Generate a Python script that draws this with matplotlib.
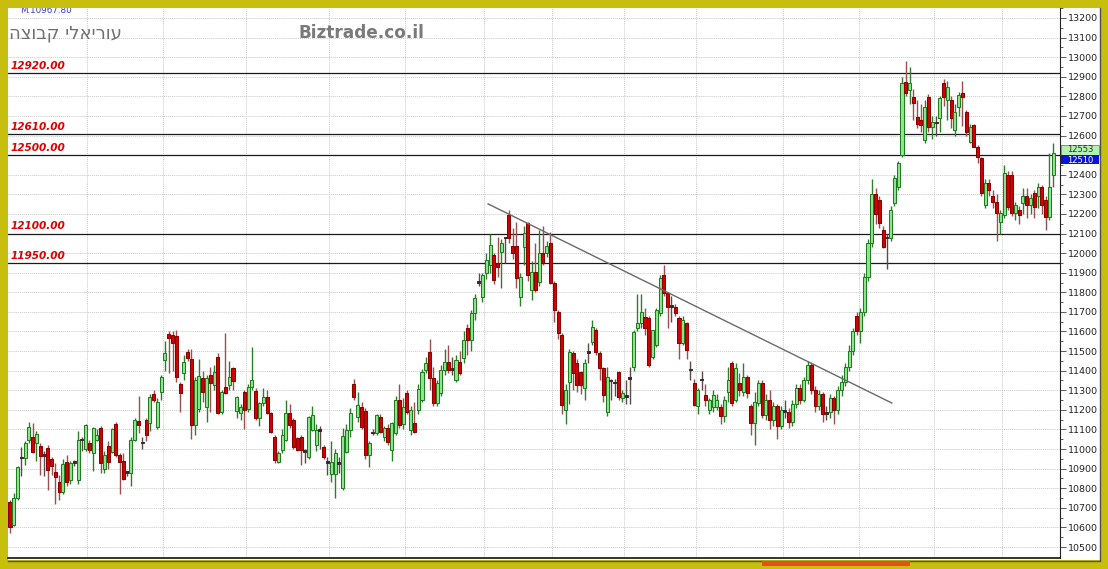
import matplotlib
matplotlib.use("Agg")
import matplotlib.pyplot as plt
import matplotlib.transforms as mtransforms
from matplotlib.patches import Rectangle
from matplotlib.lines import Line2D
from matplotlib.ticker import FuncFormatter
import numpy as np

# daily candles (left -> right)
opens = [
    10730, 10613, 10749, 10960, 10953, 11047, 11064, 11030, 11016, 10970,
    11004, 10948, 10882, 10830, 10783, 10936, 10843, 10937, 10843, 11050,
    11000, 11030, 10978, 11047, 11106, 10900, 11016, 10987, 11128, 10970,
    10941, 10880, 10877, 11047, 11145, 11038, 11149, 11132, 11281, 11115,
    11293, 11455, 11588, 11582, 11577, 11332, 11387, 11497, 11458, 11123,
    11203, 11361, 11217, 11378, 11327, 11472, 11191, 11319, 11327, 11416,
    11196, 11186, 11293, 11203, 11319, 11298, 11157, 11234, 11264, 11183,
    11060, 10936, 10996, 11047, 11183, 11149, 11055, 11064, 10987, 10962,
    11098, 11021, 11100, 11009, 10935, 10873, 10873, 10930, 10800, 10987,
    11098, 11332, 11166, 11213, 11196, 10970, 11085, 11084, 11166, 11060,
    11106, 10996, 11084, 11251, 11128, 11285, 11098, 11135, 11200, 11251,
    11404, 11497, 11361, 11234, 11285, 11404, 11446, 11410, 11353, 11446,
    11463, 11616, 11557, 11693, 11855, 11778, 11896, 11939, 11990, 11948,
    12007, 12075, 12194, 12036, 12036, 11778, 12033, 12152, 11812, 11905,
    11854, 11999, 11999, 12050, 11849, 11701, 11582, 11200, 11344, 11489,
    11438, 11395, 11310, 11490, 11548, 11608, 11489, 11412, 11191, 11345,
    11344, 11395, 11259, 11276, 11365, 11421, 11616, 11642, 11676, 11667,
    11472, 11531, 11693, 11888, 11795, 11730, 11727, 11667, 11540, 11642,
    11405, 11339, 11220, 11355, 11276, 11197, 11217, 11217, 11217, 11169,
    11293, 11438, 11251, 11336, 11293, 11370, 11220, 11131, 11234, 11336,
    11174, 11250, 11150, 11220, 11120, 11200, 11190, 11140, 11230, 11310,
    11250, 11350, 11430, 11300, 11220, 11280, 11180, 11190, 11260, 11200,
    11300, 11340, 11420, 11500, 11680, 11600, 11700, 11880, 12050, 12300,
    12272, 12118, 12082, 12076, 12254, 12340, 12501, 12875, 12833, 12799,
    12697, 12680, 12578, 12799, 12646, 12666, 12688, 12867, 12782, 12782,
    12629, 12748, 12816, 12722, 12569, 12654, 12544, 12484, 12246, 12357,
    12289, 12263, 12161, 12195, 12399, 12399, 12203, 12220, 12255, 12289,
    12246, 12306, 12289, 12340, 12272, 12186, 12399,
]
highs = [
    10740, 10775, 10915, 11013, 11040, 11140, 11135, 11090, 11030, 10990,
    11020, 10960, 10930, 10870, 10950, 10970, 10940, 10945, 11090, 11060,
    11130, 11045, 11115, 11100, 11120, 10990, 11040, 11110, 11140, 10980,
    10980, 10890, 11060, 11160, 11270, 11060, 11160, 11280, 11300, 11260,
    11380, 11550, 11600, 11600, 11610, 11340, 11480, 11510, 11510, 11370,
    11460, 11400, 11380, 11420, 11430, 11490, 11300, 11590, 11450, 11420,
    11270, 11230, 11300, 11330, 11520, 11310, 11240, 11310, 11300, 11190,
    11070, 10990, 11100, 11250, 11230, 11160, 11060, 11070, 11000, 11170,
    11220, 11130, 11120, 11020, 10960, 11040, 11000, 10960, 11110, 11130,
    11210, 11360, 11290, 11240, 11210, 11040, 11100, 11180, 11180, 11120,
    11130, 11140, 11270, 11330, 11260, 11300, 11220, 11240, 11330, 11410,
    11470, 11560, 11420, 11350, 11430, 11510, 11530, 11470, 11480, 11500,
    11600, 11640, 11710, 11790, 11900, 11900, 12000, 12100, 12000, 12080,
    12070, 12080, 12220, 12130, 12160, 11900, 12140, 12160, 11960, 12050,
    12120, 12140, 12060, 12110, 11860, 11710, 11590, 11330, 11510, 11500,
    11460, 11400, 11460, 11540, 11660, 11620, 11500, 11420, 11420, 11360,
    11360, 11400, 11300, 11350, 11420, 11610, 11790, 11790, 11720, 11680,
    11610, 11720, 11890, 11940, 11800, 11780, 11740, 11680, 11680, 11650,
    11450, 11360, 11310, 11400, 11330, 11260, 11300, 11280, 11230, 11270,
    11420, 11450, 11440, 11390, 11440, 11380, 11230, 11290, 11350, 11350,
    11280, 11300, 11240, 11230, 11220, 11250, 11210, 11250, 11330, 11330,
    11370, 11450, 11440, 11320, 11300, 11290, 11220, 11280, 11270, 11320,
    11380, 11440, 11530, 11620, 11700, 11720, 11900, 12070, 12380, 12330,
    12290, 12140, 12100, 12240, 12400, 12470, 12900, 12980, 12950, 12840,
    12780, 12760, 12780, 12810, 12700, 12700, 12800, 12890, 12880, 12800,
    12760, 12820, 12880, 12730, 12660, 12660, 12550, 12490, 12380, 12380,
    12320, 12300, 12220, 12450, 12420, 12420, 12260, 12240, 12330, 12330,
    12300, 12320, 12360, 12350, 12290, 12510, 12560,
]
lows = [
    10570, 10605, 10740, 10860, 10920, 11030, 10980, 10940, 10870, 10860,
    10790, 10870, 10720, 10740, 10770, 10810, 10820, 10915, 10820, 10990,
    10990, 10980, 10890, 11040, 10880, 10880, 10900, 10980, 10960, 10770,
    10840, 10860, 10810, 11040, 11080, 11000, 11040, 11090, 11240, 11100,
    11250, 11400, 11390, 11400, 11340, 11190, 11350, 11450, 11050, 11070,
    11190, 11240, 11140, 11190, 11300, 11180, 11180, 11280, 11300, 11300,
    11160, 11150, 11100, 11190, 11300, 11150, 11120, 11220, 11180, 11080,
    10930, 10930, 10980, 11040, 11110, 11000, 10990, 10920, 10930, 10950,
    11090, 10990, 11000, 10950, 10870, 10830, 10750, 10880, 10790, 10980,
    11060, 11250, 11140, 11100, 10950, 10910, 11070, 11070, 11080, 11040,
    11020, 10940, 11070, 11110, 11100, 11180, 11070, 11080, 11180, 11240,
    11390, 11300, 11220, 11220, 11270, 11380, 11390, 11380, 11340, 11380,
    11440, 11480, 11500, 11660, 11830, 11750, 11870, 11900, 11840, 11880,
    11820, 11950, 12050, 11970, 11820, 11730, 11940, 11860, 11760, 11800,
    11830, 11940, 11980, 11840, 11650, 11560, 11180, 11130, 11230, 11300,
    11290, 11280, 11250, 11440, 11530, 11480, 11350, 11240, 11170, 11250,
    11270, 11250, 11240, 11230, 11230, 11400, 11600, 11620, 11580, 11420,
    11460, 11520, 11680, 11780, 11620, 11650, 11680, 11460, 11530, 11460,
    11350, 11220, 11180, 11300, 11220, 11180, 11190, 11200, 11130, 11140,
    11240, 11220, 11240, 11270, 11270, 11260, 11070, 11020, 11220, 11160,
    11150, 11100, 11120, 11050, 11100, 11160, 11110, 11120, 11210, 11230,
    11240, 11330, 11280, 11190, 11200, 11140, 11150, 11160, 11130, 11180,
    11270, 11320, 11400, 11480, 11580, 11540, 11680, 11860, 12030, 12150,
    12130, 12025, 11920, 12060, 12240, 12320, 12490, 12800, 12760, 12680,
    12640, 12620, 12560, 12620, 12580, 12600, 12620, 12750, 12680, 12640,
    12600, 12700, 12650, 12600, 12560, 12540, 12460, 12290, 12230, 12290,
    12230, 12060, 12100, 12180, 12220, 12190, 12170, 12150, 12200, 12180,
    12200, 12180, 12230, 12200, 12120, 12170, 12340,
]
closes = [
    10600, 10749, 10910, 10952, 11030, 11115, 10987, 11077, 10967, 10965,
    10894, 10914, 10856, 10783, 10924, 10830, 10928, 10930, 11047, 11045,
    11123, 10996, 11106, 11072, 10928, 10970, 10936, 11101, 10970, 10936,
    10848, 10890, 11047, 11149, 11123, 11030, 11072, 11264, 11251, 11242,
    11370, 11489, 11565, 11540, 11370, 11285, 11446, 11463, 11123, 11353,
    11373, 11293, 11361, 11336, 11395, 11186, 11293, 11288, 11370, 11349,
    11264, 11214, 11200, 11319, 11350, 11157, 11234, 11264, 11186, 11089,
    10944, 10979, 11072, 11183, 11123, 11013, 10996, 10996, 10987, 11166,
    11175, 11098, 11090, 10961, 10930, 10935, 10978, 10925, 11067, 11098,
    11183, 11264, 11225, 11115, 10970, 11030, 11080, 11174, 11089, 11106,
    11038, 11132, 11251, 11123, 11217, 11191, 11200, 11089, 11305, 11395,
    11438, 11361, 11234, 11336, 11404, 11446, 11404, 11405, 11455, 11387,
    11557, 11557, 11693, 11769, 11850, 11888, 11965, 12041, 11863, 11931,
    12053, 12075, 12075, 11999, 11871, 11880, 12101, 11888, 11905, 11812,
    11999, 11948, 12036, 11849, 11710, 11591, 11225, 11302, 11497, 11387,
    11327, 11327, 11438, 11490, 11625, 11497, 11412, 11276, 11370, 11345,
    11336, 11268, 11288, 11268, 11358, 11599, 11642, 11701, 11616, 11429,
    11608, 11710, 11871, 11795, 11727, 11727, 11693, 11540, 11659, 11506,
    11403, 11225, 11302, 11352, 11251, 11251, 11276, 11251, 11169, 11251,
    11353, 11237, 11412, 11302, 11370, 11285, 11131, 11242, 11336, 11174,
    11250, 11150, 11220, 11120, 11200, 11190, 11140, 11230, 11310, 11250,
    11350, 11430, 11300, 11220, 11280, 11180, 11190, 11260, 11200, 11300,
    11340, 11420, 11500, 11600, 11600, 11700, 11880, 12050, 12300, 12200,
    12152, 12033, 12076, 12220, 12382, 12459, 12867, 12816, 12867, 12765,
    12659, 12655, 12748, 12646, 12671, 12663, 12790, 12799, 12850, 12688,
    12722, 12807, 12799, 12620, 12646, 12544, 12493, 12306, 12357, 12323,
    12263, 12203, 12203, 12408, 12237, 12203, 12246, 12195, 12289, 12246,
    12280, 12237, 12340, 12246, 12186, 12340, 12510,
]

# support / resistance levels drawn across the chart
levels = [12920, 12610, 12500, 12100, 11950]
# hand-drawn down trend line: (candle index, price) at both ends
trend_idx = [126.5, 233.3]
trend_price = [12251, 11235]
# candle index where each month starts (vertical grid)
month_starts = [21, 41, 63, 85, 105, 126, 144, 163, 182, 205, 225, 245, 263]

last_quote = 12553
last_close = 12510
header_value = "M.10967.80"
group_name = "עוריאלי קבוצה"
site_name = "Biztrade.co.il"

YELLOW = "#C7BF0B"
W, H = 1108, 569


def fx(px):
    return px / W


def fy(py):
    return 1 - py / H


fig = plt.figure(figsize=(W / 100, H / 100), dpi=100, facecolor=YELLOW)

# white panel with a dark shadow edge at right / bottom (behind the axes)
fig.patches.append(Rectangle((fx(8), fy(560)), fx(1100) - fx(8), fy(8) - fy(560),
                             transform=fig.transFigure, facecolor="white",
                             edgecolor="none", zorder=-5))
fig.lines.append(Line2D([fx(1100), fx(1100)], [fy(560), fy(8)],
                        transform=fig.transFigure, color="#505050", lw=1.0, zorder=-4))
fig.lines.append(Line2D([fx(8), fx(1100)], [fy(560.5), fy(560.5)],
                        transform=fig.transFigure, color="#505050", lw=1.0, zorder=-4))
fig.patches.append(Rectangle((fx(762), fy(566)), fx(910) - fx(762), fy(561) - fy(566),
                             transform=fig.transFigure, facecolor="#E4521C",
                             edgecolor="none", zorder=-4))

ax = fig.add_axes([fx(8), fy(558), fx(1060) - fx(8), fy(8) - fy(558)])
ax.set_facecolor("white")

o = np.array(opens, dtype=float)
h = np.array(highs, dtype=float)
l = np.array(lows, dtype=float)
c = np.array(closes, dtype=float)
x = np.arange(len(o))

up = c > o
doji = np.abs(c - o) < 12
body_col = np.where(up, "#8FE88F", "#D40000")
edge_col = np.where(up, "#1E7E1E", "#8A0000")
wick_col = np.where(up, "#2E7D2E", "#9A5050")
body_col[doji] = "#3A2A2A"
edge_col[doji] = "#3A2A2A"
wick_col[doji] = "#5A4A4A"

bottom = np.minimum(o, c)
height = np.maximum(np.abs(c - o), 8)

ax.vlines(x, l, h, colors=wick_col, lw=1.0, zorder=3)
ax.bar(x, height, bottom=bottom, width=0.8, color=body_col,
       edgecolor=edge_col, linewidth=0.75, zorder=4)

ax.set_xlim(-0.53, 277.8)
ax.set_ylim(10444, 13251)

# grid
ax.set_yticks(np.arange(10500, 13201, 100))
ax.set_yticks(np.arange(10550, 13251, 100), minor=True)
ax.grid(axis="y", which="major", color="#CACACA", lw=0.7, ls=(0, (1, 1)), zorder=0)
for m in month_starts:
    ax.axvline(m - 0.5, color="#CACACA", lw=0.7, ls=(0, (1, 1)), zorder=0)
ax.set_xticks([])

# the last-price boxes sit on top of the tick label next to them
hidden_tick = round(last_close, -2)
ax.yaxis.set_major_formatter(
    FuncFormatter(lambda v, pos: "" if abs(v - hidden_tick) < 1 else f"{v:.0f}"))

ax.yaxis.tick_right()
ax.tick_params(axis="y", which="major", length=4, width=0.6, color="#444444",
               labelsize=6.8, labelcolor="#222222", pad=2)
ax.tick_params(axis="y", which="minor", length=2, width=0.6, color="#444444")
for s in ["top", "left"]:
    ax.spines[s].set_visible(False)
ax.spines["right"].set_color("#222222")
ax.spines["right"].set_linewidth(0.8)
ax.spines["bottom"].set_color("#111111")
ax.spines["bottom"].set_linewidth(1.2)

# level lines + labels
for lv in levels:
    ax.axhline(lv, color="#1A1A1A", lw=0.9, zorder=2)
    ax.annotate(f"{lv:.2f}", xy=(0.002, lv), xycoords=("axes fraction", "data"),
                xytext=(0, 1.5), textcoords="offset points", va="bottom", ha="left",
                color="#E00000", fontsize=7.6, fontweight="bold", fontstyle="italic")

ax.plot(trend_idx, trend_price, color="#6A6A6A", lw=1.0, zorder=5)

# last price boxes on the right axis
trans = mtransforms.blended_transform_factory(ax.transAxes, ax.transData)
units_per_px = (ax.get_ylim()[1] - ax.get_ylim()[0]) / 550
box_w = (1099 - 1061) / 1052
g_h = 10 * units_per_px
ax.add_patch(Rectangle((1.001, last_quote - g_h), box_w, g_h, transform=trans,
                       facecolor="#B4F0B4", edgecolor="#4CA04C", lw=0.6,
                       clip_on=False, zorder=6))
ax.text(1.001 + box_w / 2, last_quote - g_h / 2 + 0.5 * units_per_px, f"{last_quote}",
        transform=trans, ha="center", va="center", fontsize=6.0, color="#1A3A1A",
        clip_on=False, zorder=7)
b_top = last_quote - g_h
b_h = 9 * units_per_px
ax.add_patch(Rectangle((1.001, b_top - b_h), box_w, b_h, transform=trans,
                       facecolor="#0A14D8", edgecolor="none", clip_on=False, zorder=6))
ax.text(1.001 + box_w / 2, b_top - b_h / 2 - 1.5 * units_per_px, f"{last_close}",
        transform=trans, ha="center", va="center", fontsize=6.0, color="white",
        clip_on=False, zorder=7)

# header texts
ax.annotate(header_value, xy=(0.0114, 1.0), xycoords="axes fraction",
            xytext=(0, -2), textcoords="offset points", va="center", ha="left",
            fontsize=6.3, color="#3A3AD0", annotation_clip=False, clip_on=True)
# matplotlib has no bidi support: reverse so the Hebrew reads right-to-left
fig.text(fx(9), fy(33), group_name[::-1], fontsize=13, color="#707070",
         va="center", ha="left", family="DejaVu Sans")
fig.text(fx(298), fy(33), site_name, fontsize=12.2, color="#7A7A7A",
         fontweight="bold", va="center", ha="left")

fig.savefig("out.png", dpi=100, facecolor=YELLOW)
